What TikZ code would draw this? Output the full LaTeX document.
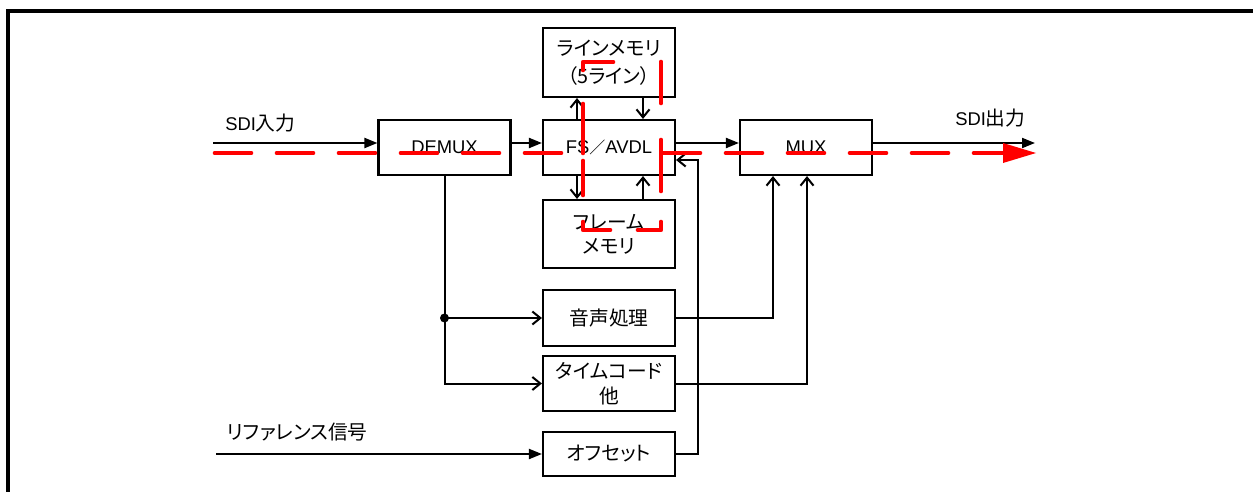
\documentclass[tikz,border=0pt]{standalone}
\usepackage{fontspec}
\setmainfont{Liberation Sans}
\newfontfamily\jp[RawFeature=+palt]{Noto Sans CJK JP}
\newfontfamily\jpn{Noto Sans CJK JP}
\usetikzlibrary{arrows.meta,calc}
\tikzset{
  blk/.style={draw, line width=1.6pt, minimum width=99pt, minimum height=41.25pt, inner sep=0pt, align=center},
  jpt/.style={font=\jp\fontsize{14.8}{#1}\selectfont},
  conn/.style={line width=1.5pt},
  fa/.style={conn, -{Triangle[length=9.75pt,width=7.5pt]}},
  oa/.style={conn, -{Straight Barb[length=6pt,width=9.75pt]}},
  redd/.style={red, line width=3.5pt, line cap=round, line join=round},
  lbl/.style={anchor=west, inner sep=0pt},
}
\begin{document}
\begin{tikzpicture}[x=0.75pt,y=-0.75pt,font=\fontsize{13.8}{16}\selectfont]
\useasboundingbox (0,0) rectangle (1253,492);
\draw[line width=2.4pt] (1253,11) -- (8,11) -- (8,492);

% blocks
\node[blk] (demux) at (444.5,147.5) {DEMUX};
\node[blk, minimum height=51.75pt, jpt=21] (lm) at (609,62.5) {ラインメモリ\\（5ライン）};
\node[blk] (fs) at (609,147.5) {FS{\jpn\fontsize{12}{14}\selectfont ／}AVDL};
\node[blk, minimum height=51pt, jpt=18] (fm) at (609,234) {フレーム\\メモリ};
\node[blk] (mux) at (806,147.5) {MUX};
\node[blk, minimum height=42pt, jpt=18] (aud) at (609,318) {音声処理};
\node[blk, jpt=19] (tc) at (609,383.5) {タイムコード\\他};
\node[blk, minimum height=33pt, jpt=18] (ofs) at (609,454) {オフセット};

% labels
\node[lbl] (lin) at (225,123) {SDI{\jp\fontsize{14.8}{16}\selectfont 入力}};
\node[lbl] (lout) at (955,118) {SDI{\jp\fontsize{14.8}{16}\selectfont 出力}};
\node[lbl, jpt=16] (lref) at (227,432) {リファレンス信号};

% helper coordinates
\coordinate (sdiin) at (213,143);
\coordinate (sdiout) at (1035,143);
\coordinate (refin) at (216,454);
\coordinate (xa) at (577,0);
\coordinate (xb) at (643,0);
\coordinate (m1) at (773,0);
\coordinate (m2) at (807,0);
\coordinate (offc) at (698,160);
\coordinate (dot) at (demux.south |- aud.west);

% main signal path
\draw[fa] (sdiin) -- (sdiin -| demux.west);
\draw[fa] (demux.east |- sdiin) -- (fs.west |- sdiin);
\draw[fa] (fs.east |- sdiin) -- (mux.west |- sdiin);
\draw[fa] (mux.east |- sdiin) -- (sdiout);

% memories
\draw[oa] (fs.north -| xa) -- (lm.south -| xa);
\draw[oa] (lm.south -| xb) -- (fs.north -| xb);
\draw[oa] (fs.south -| xa) -- (fm.north -| xa);
\draw[oa] (fm.north -| xb) -- (fs.south -| xb);

% demux branches
\draw[oa] (demux.south) |- (tc.west);
\draw[oa] (dot) -- (aud.west);
\fill (dot) circle (4.5);

% to mux
\draw[oa] (aud.east) -| (mux.south -| m1);
\draw[oa] (tc.east) -| (mux.south -| m2);

% reference
\draw[fa] (refin) -- (ofs.west);
\draw[oa] (ofs.east) -| (offc) -- (fs.east |- offc);

% red dashed overlay
\draw[redd, dash pattern=on 27pt off 19.5pt] (215,153) -- (563,153);
\draw[redd, dash pattern=on 27pt off 19.5pt] (664,153) -- (1003,153);
\fill[red] (1003,143) -- (1036,153) -- (1003,163) -- cycle;
\draw[redd] (583,104) -- (583,153);
\draw[redd] (583,161) -- (583,195);
\draw[redd] (583,70) -- (583,62) -- (613,62);
\draw[redd] (661,62) -- (661,103);
\draw[redd] (661,140) -- (661,191);
\draw[redd] (661,222) -- (661,230) -- (638,230);
\draw[redd] (583,222) -- (583,230) -- (610,230);
\end{tikzpicture}
\end{document}
